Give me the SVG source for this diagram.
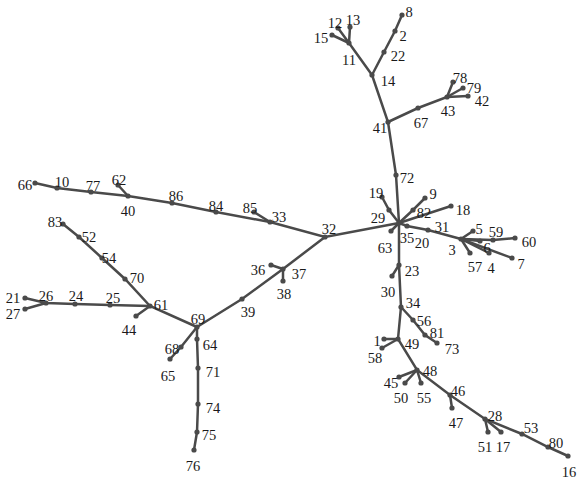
<svg xmlns="http://www.w3.org/2000/svg" width="577" height="479" viewBox="0 0 577 479">
<style>
.e{stroke:#4a4a4a;stroke-width:2.5;stroke-linecap:round;fill:none}
circle{fill:#4a4a4a}
text{font-family:'Liberation Serif','DejaVu Serif',serif;font-size:14.5px;fill:#1a1a1a;text-anchor:middle}
</style>
<rect width="577" height="479" fill="#fff"/>
<g id="connectors">
<polyline class="e" points="402,15 395,31 384,52 372,75 388,122 396,175 399,223"/>
<polyline class="e" points="372,75 349,43 338,28"/>
<polyline class="e" points="349,43 350,27"/>
<polyline class="e" points="349,43 332,35"/>
<polyline class="e" points="388,122 418,108 447,97 453,82"/>
<polyline class="e" points="447,97 463,88"/>
<polyline class="e" points="447,97 468,96"/>
<polyline class="e" points="399,223 389,210 382,197"/>
<polyline class="e" points="399,223 413,210 425,198"/>
<polyline class="e" points="399,223 451,206"/>
<polyline class="e" points="399,223 391,231"/>
<polyline class="e" points="399,223 407,226 428,230 461,239"/>
<polyline class="e" points="461,239 473,231"/>
<polyline class="e" points="461,239 493,240 515,238"/>
<polyline class="e" points="461,239 480,241"/>
<polyline class="e" points="461,239 470,253"/>
<polyline class="e" points="461,239 489,253"/>
<polyline class="e" points="461,239 512,258"/>
<polyline class="e" points="399,223 399,265 401,307 398,339 417,370 450,395 485,419 522,434 548,447 568,456"/>
<polyline class="e" points="399,265 392,276"/>
<polyline class="e" points="401,307 413,320 425,335 437,343"/>
<polyline class="e" points="398,339 384,339"/>
<polyline class="e" points="398,339 382,348"/>
<polyline class="e" points="417,370 399,377"/>
<polyline class="e" points="417,370 405,383"/>
<polyline class="e" points="417,370 421,383"/>
<polyline class="e" points="450,395 452,408"/>
<polyline class="e" points="485,419 488,432"/>
<polyline class="e" points="485,419 501,432"/>
<polyline class="e" points="399,223 325,237 270,222 216,212 172,203 128,196 91,192 57,188 35,183"/>
<polyline class="e" points="270,222 254,212"/>
<polyline class="e" points="128,196 118,185"/>
<polyline class="e" points="325,237 283,269 242,299 197,327"/>
<polyline class="e" points="283,269 271,265"/>
<polyline class="e" points="283,269 283,281"/>
<polyline class="e" points="197,327 150,306 125,279 102,258 79,237 63,224"/>
<polyline class="e" points="150,306 110,305 75,304 46,303 25,298"/>
<polyline class="e" points="46,303 25,309"/>
<polyline class="e" points="150,306 136,316"/>
<polyline class="e" points="197,327 181,347 170,359"/>
<polyline class="e" points="197,327 197,339 198,368 198,404 197,432 194,450"/>
</g>
<g font-family="Liberation Serif, serif">
<g id="n8"><circle cx="402" cy="15" r="2.6"/><text x="409" y="17">8</text></g>
<g id="n2"><circle cx="395" cy="31" r="2.6"/><text x="403" y="41">2</text></g>
<g id="n22"><circle cx="384" cy="52" r="2.6"/><text x="398" y="61">22</text></g>
<g id="n14"><circle cx="372" cy="75" r="2.6"/><text x="388" y="86">14</text></g>
<g id="n11"><circle cx="349" cy="43" r="2.6"/><text x="349" y="65">11</text></g>
<g id="n12"><circle cx="338" cy="28" r="2.6"/><text x="335" y="28">12</text></g>
<g id="n13"><circle cx="350" cy="27" r="2.6"/><text x="353" y="25">13</text></g>
<g id="n15"><circle cx="332" cy="35" r="2.6"/><text x="321" y="43">15</text></g>
<g id="n41"><circle cx="388" cy="122" r="2.6"/><text x="380" y="133">41</text></g>
<g id="n67"><circle cx="418" cy="108" r="2.6"/><text x="421" y="128">67</text></g>
<g id="n43"><circle cx="447" cy="97" r="2.6"/><text x="448" y="116">43</text></g>
<g id="n78"><circle cx="453" cy="82" r="2.6"/><text x="460" y="83">78</text></g>
<g id="n79"><circle cx="463" cy="88" r="2.6"/><text x="474" y="93">79</text></g>
<g id="n42"><circle cx="468" cy="96" r="2.6"/><text x="482" y="106">42</text></g>
<g id="n72"><circle cx="396" cy="175" r="2.6"/><text x="407" y="183">72</text></g>
<g id="n35"><circle cx="399" cy="223" r="2.6"/><text x="407" y="243">35</text></g>
<g id="n29"><circle cx="389" cy="210" r="2.6"/><text x="378" y="223">29</text></g>
<g id="n19"><circle cx="382" cy="197" r="2.6"/><text x="376" y="198">19</text></g>
<g id="n82"><circle cx="413" cy="210" r="2.6"/><text x="424" y="218">82</text></g>
<g id="n9"><circle cx="425" cy="198" r="2.6"/><text x="433" y="199">9</text></g>
<g id="n18"><circle cx="451" cy="206" r="2.6"/><text x="463" y="215">18</text></g>
<g id="n63"><circle cx="391" cy="231" r="2.6"/><text x="385" y="253">63</text></g>
<g id="n20"><circle cx="407" cy="226" r="2.6"/><text x="422" y="248">20</text></g>
<g id="n31"><circle cx="428" cy="230" r="2.6"/><text x="442" y="232">31</text></g>
<g id="n3"><circle cx="461" cy="239" r="2.6"/><text x="452" y="255">3</text></g>
<g id="n5"><circle cx="473" cy="231" r="2.6"/><text x="479" y="234">5</text></g>
<g id="n59"><circle cx="493" cy="240" r="2.6"/><text x="496" y="237">59</text></g>
<g id="n60"><circle cx="515" cy="238" r="2.6"/><text x="529" y="247">60</text></g>
<g id="n6"><circle cx="480" cy="241" r="2.6"/><text x="487" y="253">6</text></g>
<g id="n57"><circle cx="470" cy="253" r="2.6"/><text x="475" y="272">57</text></g>
<g id="n4"><circle cx="489" cy="253" r="2.6"/><text x="491" y="273">4</text></g>
<g id="n7"><circle cx="512" cy="258" r="2.6"/><text x="521" y="269">7</text></g>
<g id="n23"><circle cx="399" cy="265" r="2.6"/><text x="412" y="276">23</text></g>
<g id="n30"><circle cx="392" cy="276" r="2.6"/><text x="388" y="297">30</text></g>
<g id="n34"><circle cx="401" cy="307" r="2.6"/><text x="413" y="308">34</text></g>
<g id="n56"><circle cx="413" cy="320" r="2.6"/><text x="424" y="326">56</text></g>
<g id="n81"><circle cx="425" cy="335" r="2.6"/><text x="437" y="338">81</text></g>
<g id="n73"><circle cx="437" cy="343" r="2.6"/><text x="452" y="354">73</text></g>
<g id="n49"><circle cx="398" cy="339" r="2.6"/><text x="412" y="349">49</text></g>
<g id="n1"><circle cx="384" cy="339" r="2.6"/><text x="377" y="346">1</text></g>
<g id="n58"><circle cx="382" cy="348" r="2.6"/><text x="375" y="363">58</text></g>
<g id="n48"><circle cx="417" cy="370" r="2.6"/><text x="430" y="376">48</text></g>
<g id="n45"><circle cx="399" cy="377" r="2.6"/><text x="391" y="388">45</text></g>
<g id="n50"><circle cx="405" cy="383" r="2.6"/><text x="401" y="403">50</text></g>
<g id="n55"><circle cx="421" cy="383" r="2.6"/><text x="424" y="403">55</text></g>
<g id="n46"><circle cx="450" cy="395" r="2.6"/><text x="458" y="396">46</text></g>
<g id="n47"><circle cx="452" cy="408" r="2.6"/><text x="456" y="428">47</text></g>
<g id="n28"><circle cx="485" cy="419" r="2.6"/><text x="495" y="421">28</text></g>
<g id="n51"><circle cx="488" cy="432" r="2.6"/><text x="485" y="452">51</text></g>
<g id="n17"><circle cx="501" cy="432" r="2.6"/><text x="503" y="452">17</text></g>
<g id="n53"><circle cx="522" cy="434" r="2.6"/><text x="531" y="433">53</text></g>
<g id="n80"><circle cx="548" cy="447" r="2.6"/><text x="556" y="448">80</text></g>
<g id="n16"><circle cx="568" cy="456" r="2.6"/><text x="569" y="477">16</text></g>
<g id="n32"><circle cx="325" cy="237" r="2.6"/><text x="329" y="234">32</text></g>
<g id="n33"><circle cx="270" cy="222" r="2.6"/><text x="279" y="222">33</text></g>
<g id="n85"><circle cx="254" cy="212" r="2.6"/><text x="250" y="213">85</text></g>
<g id="n84"><circle cx="216" cy="212" r="2.6"/><text x="216" y="211">84</text></g>
<g id="n86"><circle cx="172" cy="203" r="2.6"/><text x="176" y="201">86</text></g>
<g id="n40"><circle cx="128" cy="196" r="2.6"/><text x="128" y="216">40</text></g>
<g id="n62"><circle cx="118" cy="185" r="2.6"/><text x="119" y="185">62</text></g>
<g id="n77"><circle cx="91" cy="192" r="2.6"/><text x="93" y="191">77</text></g>
<g id="n10"><circle cx="57" cy="188" r="2.6"/><text x="62" y="187">10</text></g>
<g id="n66"><circle cx="35" cy="183" r="2.6"/><text x="25" y="190">66</text></g>
<g id="n37"><circle cx="283" cy="269" r="2.6"/><text x="299" y="279">37</text></g>
<g id="n36"><circle cx="271" cy="265" r="2.6"/><text x="258" y="275">36</text></g>
<g id="n38"><circle cx="283" cy="281" r="2.6"/><text x="284" y="299">38</text></g>
<g id="n39"><circle cx="242" cy="299" r="2.6"/><text x="248" y="317">39</text></g>
<g id="n69"><circle cx="197" cy="327" r="2.6"/><text x="198" y="324">69</text></g>
<g id="n61"><circle cx="150" cy="306" r="2.6"/><text x="161" y="310">61</text></g>
<g id="n70"><circle cx="125" cy="279" r="2.6"/><text x="137" y="283">70</text></g>
<g id="n54"><circle cx="102" cy="258" r="2.6"/><text x="109" y="263">54</text></g>
<g id="n52"><circle cx="79" cy="237" r="2.6"/><text x="89" y="242">52</text></g>
<g id="n83"><circle cx="63" cy="224" r="2.6"/><text x="55" y="227">83</text></g>
<g id="n25"><circle cx="110" cy="305" r="2.6"/><text x="113" y="303">25</text></g>
<g id="n24"><circle cx="75" cy="304" r="2.6"/><text x="76" y="301">24</text></g>
<g id="n26"><circle cx="46" cy="303" r="2.6"/><text x="46" y="301">26</text></g>
<g id="n21"><circle cx="25" cy="298" r="2.6"/><text x="13" y="303">21</text></g>
<g id="n27"><circle cx="25" cy="309" r="2.6"/><text x="13" y="319">27</text></g>
<g id="n44"><circle cx="136" cy="316" r="2.6"/><text x="129" y="335">44</text></g>
<g id="n68"><circle cx="181" cy="347" r="2.6"/><text x="172" y="354">68</text></g>
<g id="n65"><circle cx="170" cy="359" r="2.6"/><text x="168" y="381">65</text></g>
<g id="n64"><circle cx="197" cy="339" r="2.6"/><text x="210" y="350">64</text></g>
<g id="n71"><circle cx="198" cy="368" r="2.6"/><text x="213" y="377">71</text></g>
<g id="n74"><circle cx="198" cy="404" r="2.6"/><text x="213" y="413">74</text></g>
<g id="n75"><circle cx="197" cy="432" r="2.6"/><text x="209" y="440">75</text></g>
<g id="n76"><circle cx="194" cy="450" r="2.6"/><text x="193" y="471">76</text></g>
</g>
</svg>
